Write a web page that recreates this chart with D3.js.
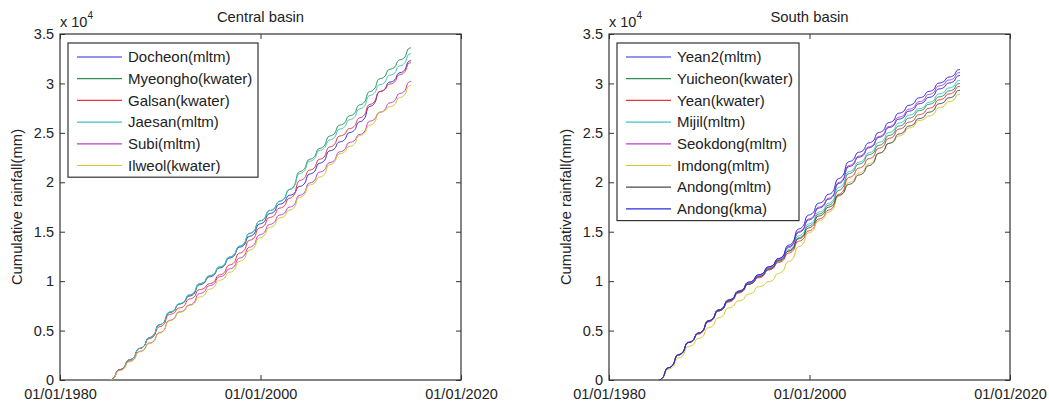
<!DOCTYPE html>
<html>
<head>
<meta charset="utf-8">
<script src="https://cdn.jsdelivr.net/npm/d3@7"></script>
<style>
    body { margin: 0; background: #fff; }
    svg text { font-family: "Liberation Sans", Arial, Helvetica, sans-serif; fill: #222; }
</style>
</head>
<body>
<svg id="chart" width="1049" height="404"></svg>
<script>

// years of record (annual totals, mm)
var years = [1985, 1986, 1987, 1988, 1989, 1990, 1991, 1992, 1993, 1994,
             1995, 1996, 1997, 1998, 1999, 2000, 2001, 2002, 2003, 2004,
             2005, 2006, 2007, 2008, 2009, 2010, 2011, 2012, 2013, 2014];

// share of the yearly rain falling in each month (monsoon in Jul/Aug)
var monthShare = [0.02, 0.03, 0.05, 0.07, 0.08, 0.12, 0.25, 0.20, 0.10, 0.04, 0.03, 0.01];

// Central basin
var centralNames = ["Docheon(mltm)", "Myeongho(kwater)", "Galsan(kwater)", "Jaesan(mltm)", "Subi(mltm)", "Ilweol(kwater)"];
var docheon  = [1050,1000,1150,1100,1300,1250,850,800,1150,800, 900,1000,1100,1100,1250,1050,950,900,900,1250, 1100,1250,900,950,1100,1550,1500,950,950,1200];
var myeongho = [1050,1000,1150,1100,1300,1250,850,900,1150,800, 900,1000,1100,1300,1250,1050,950,1200,1800,1250, 1100,1250,1100,950,1100,1350,1300,950,950,1200];
var galsan   = [1050,1000,1150,1000,1200,1250,650,900,950,600, 900,1000,1200,1300,1250,1050,950,1000,1800,1050, 1100,1250,1100,750,1100,1350,1300,750,950,1200];
var jaesan   = [1050,1000,1150,1100,1300,1300,850,900,1100,800, 900,1000,1100,1300,1250,1050,950,1200,1600,1250, 1100,1050,1100,950,1100,1350,1100,950,950,1200];
var subi     = [1050,850,1000,850,1050,1250,850,700,1150,800, 900,800,1100,1100,1250,1050,950,800,1200,1250, 1100,950,1100,950,800,1350,900,950,950,1200];
var ilweol   = [950,900,1000,850,1050,1250,850,700,850,800, 900,800,1100,1150,1250,1050,950,800,1300,1250, 800,1250,1100,750,1100,1050,1300,550,950,1200];

// South basin
var southNames = ["Yean2(mltm)", "Yuicheon(kwater)", "Yean(kwater)", "Mijil(mltm)", "Seokdong(mltm)", "Imdong(mltm)", "Andong(mltm)", "Andong(kma)"];
var yean2     = [1250,1300,1250,950,1250,1100,1000,900,900,750, 800,850,1200,1450,1250,1200,900,1600,1700,950, 950,1050,1000,850,800,750,650,850,600,750];
var yuicheon  = [1250,1300,1250,950,1150,1100,1000,900,800,750, 700,850,1050,1350,1200,1200,900,1500,1700,950, 950,950,1000,950,800,750,650,750,600,750];
var yean      = [1250,1300,1250,850,1250,1100,900,900,900,650, 800,750,950,1200,1050,1200,900,1600,1700,950, 950,1050,1000,950,700,750,650,850,600,750];
var mijil     = [1250,1300,1250,950,1250,1100,1000,800,900,650, 800,850,1100,1400,1200,1200,900,1600,1600,950, 950,1050,1000,950,800,650,650,850,600,750];
var seokdong  = [1250,1350,1250,900,1250,1100,900,900,900,750, 800,850,1200,1650,1250,1200,900,1600,1700,950, 950,1050,1000,950,800,750,750,850,600,750];
var imdong    = [1100,1150,1150,800,1100,1000,1000,700,700,750, 500,850,1200,1500,1400,1200,900,1600,1400,950, 950,1050,1000,750,800,750,450,850,600,750];
var andongM   = [1250,1300,1250,950,1250,1000,1000,900,800,750, 800,850,950,1250,1100,1200,900,1200,1100,950, 950,1250,1000,950,800,750,650,850,600,750];
var andongK   = [1250,1300,1250,950,1250,1100,1000,900,900,750, 800,850,1350,1650,1400,1200,900,1600,1700,950, 950,1050,1000,950,800,750,650,850,600,750];

// axis ticks
var yTicks = [0, 5000, 10000, 15000, 20000, 25000, 30000, 35000];
var xTickYears = [1980, 2000, 2020];

// matlab line colours, slightly washed like the picture
var palette = ["#2b2be0", "#2f8f52", "#e8363f", "#3cc6c0", "#c03cc8", "#d2c82c", "#4a4a4a", "#2b2be0"];

var svg = d3.select("#chart");
var fmtDate = d3.timeFormat("%m/%d/%Y");
var cumShare = d3.cumsum(monthShare);

function toPoints(annual) {
    var pts = [{ date: new Date(years[0], 0, 1), value: 0 }];
    var total = 0;
    annual.forEach(function (a, i) {
        for (var m = 0; m < 12; m++) {
            pts.push({ date: new Date(years[i], m + 1, 1), value: total + a * cumShare[m] });
        }
        total += a;
    });
    return pts;
}

function drawPanel(left, title, names, series, legendW) {

    var width = 401;
    var top = 34, bottom = 380;

    var g = svg.append("g")
        .attr("transform", "translate(" + left + ",0)");

    var x = d3.scaleTime()
        .domain([new Date(1980, 0, 1), new Date(2020, 0, 1)])
        .range([0, width]);

    var y = d3.scaleLinear()
        .domain([0, 35000])
        .range([bottom, top]);

    var xt = xTickYears.map(function (yr) { return new Date(yr, 0, 1); });

    // axes, matlab style ticks pointing inward
    g.append("g")
        .attr("transform", "translate(0," + bottom + ")")
        .call(d3.axisBottom(x).tickValues(xt).tickSize(-5).tickPadding(9).tickFormat(fmtDate))
        .call(function (a) { a.select(".domain").remove(); });

    g.append("g")
        .attr("transform", "translate(0," + top + ")")
        .call(d3.axisTop(x).tickValues(xt).tickSize(-5).tickFormat(""))
        .call(function (a) { a.select(".domain").remove(); });

    g.append("g")
        .call(d3.axisLeft(y).tickValues(yTicks).tickSize(-5).tickPadding(6)
            .tickFormat(function (d) { return d3.format("~g")(d / 10000); }))
        .call(function (a) { a.select(".domain").remove(); });

    g.append("g")
        .attr("transform", "translate(" + width + ",0)")
        .call(d3.axisRight(y).tickValues(yTicks).tickSize(-5).tickFormat(""))
        .call(function (a) { a.select(".domain").remove(); });

    g.selectAll(".tick line").attr("stroke", "#333");
    g.selectAll(".tick text")
        .attr("font-size", "14.5px")
        .style("font-family", "'Liberation Sans', Arial, sans-serif")
        .attr("fill", "#222");

    g.append("rect")
        .attr("x", 0).attr("y", top)
        .attr("width", width).attr("height", bottom - top)
        .attr("fill", "none")
        .attr("stroke", "#333")
        .attr("stroke-width", 1.2);

    // lines
    var line = d3.line()
        .x(function (d) { return x(d.date); })
        .y(function (d) { return y(d.value); });

    g.selectAll("path.series")
        .data(series)
        .enter()
        .append("path")
        .attr("class", "series")
        .attr("d", function (d) { return line(toPoints(d)); })
        .attr("fill", "none")
        .attr("stroke", function (d, i) { return palette[i]; })
        .attr("stroke-width", 1);

    // title and labels
    g.append("text")
        .attr("x", width / 2)
        .attr("y", 22)
        .attr("text-anchor", "middle")
        .attr("font-size", "14.8px")
        .text(title);

    var ex = g.append("text")
        .attr("x", 0)
        .attr("y", 27)
        .attr("font-size", "14.5px");
    ex.append("tspan").text("x 10");
    ex.append("tspan").attr("dy", -8).attr("font-size", "10px").text("4");

    g.append("text")
        .attr("transform", "translate(-38," + ((top + bottom) / 2) + ") rotate(-90)")
        .attr("text-anchor", "middle")
        .attr("font-size", "14.8px")
        .text("Cumulative rainfall(mm)");

    // legend
    var rowH = 21.7;
    var lg = g.append("g")
        .attr("transform", "translate(8,43)");

    lg.append("rect")
        .attr("width", legendW)
        .attr("height", names.length * rowH + 4)
        .attr("fill", "#fff")
        .attr("stroke", "#333")
        .attr("stroke-width", 1.2);

    var row = lg.selectAll("g.row")
        .data(names)
        .enter()
        .append("g")
        .attr("transform", function (d, i) { return "translate(0," + (14 + i * rowH) + ")"; });

    row.append("line")
        .attr("x1", 9).attr("x2", 54)
        .attr("stroke", function (d, i) { return palette[i]; })
        .attr("stroke-width", 1.2);

    row.append("text")
        .attr("x", 60)
        .attr("dy", "0.35em")
        .attr("font-size", "15px")
        .text(function (d) { return d; });
}

drawPanel(60, "Central basin", centralNames, [docheon, myeongho, galsan, jaesan, subi, ilweol], 190);
drawPanel(609, "South basin", southNames, [yean2, yuicheon, yean, mijil, seokdong, imdong, andongM, andongK], 182);

</script>
</body>
</html>
